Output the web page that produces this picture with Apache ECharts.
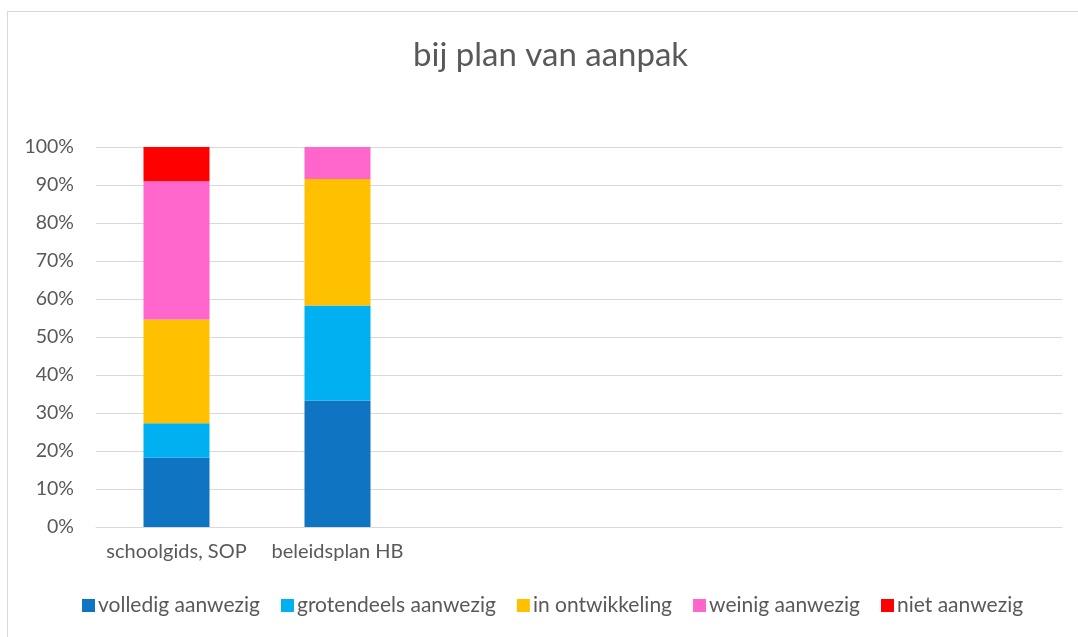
<!DOCTYPE html>
<html><head><meta charset="utf-8">
<script src="https://cdn.jsdelivr.net/npm/echarts@6/dist/echarts.min.js"></script>
<style>
html,body{margin:0;padding:0;background:#fff;}
#frame{position:absolute;left:7px;top:11px;width:1100px;height:700px;border:1px solid #d9d9d9;box-sizing:border-box;}
#c{position:absolute;left:0;top:0;width:1078px;height:637px;}
</style></head>
<body><div id="frame"></div><div id="c"></div>
<script>
const title = 'bij plan van aanpak';
const categories = ['schoolgids, SOP', 'beleidsplan HB', '', '', '', ''];
const seriesNames = ['volledig aanwezig', 'grotendeels aanwezig', 'in ontwikkeling', 'weinig aanwezig', 'niet aanwezig'];
const colors = ['#0F74C2', '#00B0F0', '#FFC000', '#FF66CC', '#FF0000'];
const volledig = [18.2, 33.3, null, null, null, null];
const grotendeels = [9.1, 25.0, null, null, null, null];
const ontwikkeling = [27.3, 33.3, null, null, null, null];
const weinig = [36.4, 8.4, null, null, null, null];
const niet = [9.0, 0, null, null, null, null];
const values = [volledig, grotendeels, ontwikkeling, weinig, niet];

const chart = echarts.init(document.getElementById('c'));
const font = 'Lato, "Open Sans", sans-serif';
chart.setOption({
  animation: false,
  title: {text: title, left: 408, top: 34, textStyle: {fontFamily: font, fontSize: 33, fontWeight: 'normal', color: '#595959'}},
  grid: {left: 96, right: 16, top: 147, bottom: 110},
  xAxis: {
    type: 'category', data: categories,
    axisLine: {lineStyle: {color: '#d9d9d9'}}, axisTick: {show: false},
    axisLabel: {fontFamily: font, fontSize: 20, color: '#595959', margin: 15, interval: 0}
  },
  yAxis: {
    type: 'value', min: 0, max: 100, interval: 10,
    axisLabel: {formatter: '{value}%', fontFamily: font, fontSize: 19.5, color: '#595959', margin: 22},
    splitLine: {lineStyle: {color: '#d9d9d9', width: 1}},
    axisLine: {show: false}, axisTick: {show: false}
  },
  legend: {
    bottom: 16, left: 77, itemWidth: 13, itemHeight: 13, itemGap: 21,
    icon: 'rect',
    textStyle: {fontFamily: font, fontSize: 21, color: '#595959', padding: [0, 0, 0, -2]},
    data: seriesNames
  },
  series: seriesNames.map((n, i) => ({
    name: n, type: 'bar', stack: 'total', barWidth: 66,
    itemStyle: {color: colors[i]},
    data: values[i]
  }))
});
</script></body></html>
